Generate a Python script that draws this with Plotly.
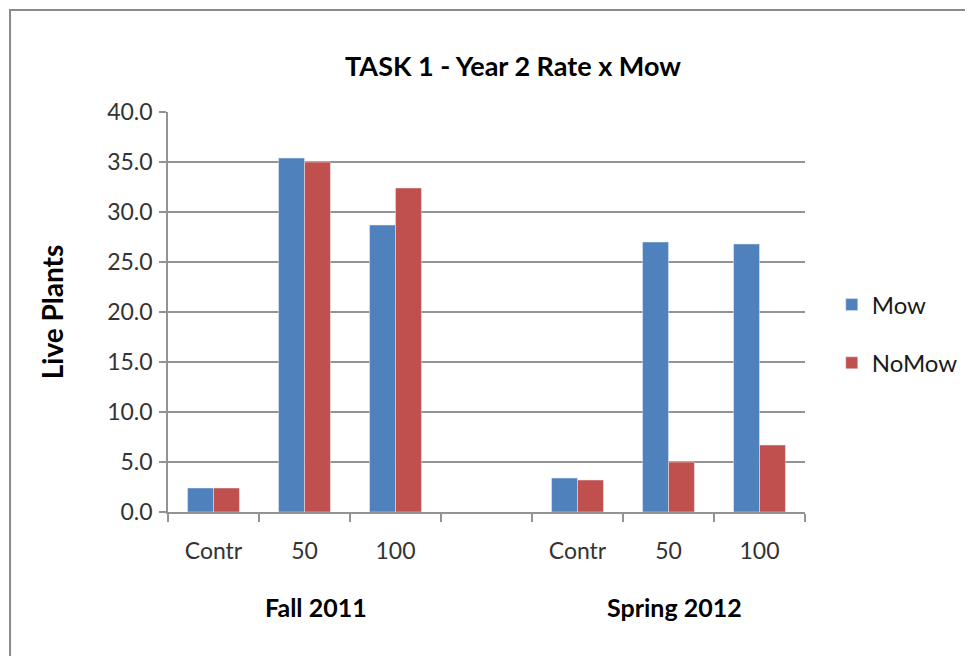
import plotly.graph_objects as go

# categories (ids keep each slot unique; a blank slot separates the two seasons)
cat_ids = ["f_contr", "f_50", "f_100", "gap", "s_contr", "s_50", "s_100"]
cat_labels = ["Contr", "50", "100", "", "Contr", "50", "100"]
groups = ["Fall 2011", "Spring 2012"]
group_centers = ["f_50", "s_50"]

mow = [2.4, 35.4, 28.7, None, 3.4, 27.0, 26.8]
nomow = [2.4, 35.0, 32.4, None, 3.2, 5.0, 6.7]

y_ticks = [0, 5, 10, 15, 20, 25, 30, 35, 40]

font = "Lato, 'Open Sans', sans-serif"
grid = "#939393"

fig = go.Figure()
fig.add_trace(go.Bar(x=cat_ids, y=mow, name="Mow", marker_color="#4F81BD",
                     legendgroup="a"))
fig.add_trace(go.Bar(x=cat_ids, y=nomow, name="NoMow", marker_color="#C0504D",
                     legendgroup="b"))

# season labels under the category labels
for g, c, dx in zip(groups, group_centers, [11, 6]):
    fig.add_annotation(x=c, y=-0.2375, xref="x", yref="paper", text=g,
                       showarrow=False, xshift=dx, yanchor="middle",
                       font=dict(family=font, size=25, color="#000000", weight="bold"))

# chart area border (Excel style)
fig.add_shape(type="rect", xref="paper", yref="paper",
              x0=-0.248, x1=1.4, y0=-0.6, y1=1.255,
              line=dict(color="#8a8a8a", width=2), layer="below")

fig.update_layout(
    width=973, height=656,
    margin=dict(l=160, r=176, t=104, b=152),
    paper_bgcolor="white", plot_bgcolor="white",
    barmode="group", bargap=0.43, bargroupgap=0,
    title=dict(text="<b>TASK 1 - Year 2 Rate x Mow</b>", x=0.519, xanchor="center",
               y=0.91, yanchor="middle",
               font=dict(family=font, size=27, color="#000000")),
    legend=dict(x=1.042, y=0.445, xanchor="left", yanchor="middle",
                font=dict(family=font, size=24, color="#1a1a1a"),
                traceorder="grouped", tracegroupgap=24),
    xaxis=dict(type="category", categoryorder="array", categoryarray=cat_ids,
               tickvals=cat_ids, ticktext=cat_labels, tickson="boundaries",
               ticks="outside", ticklen=8, tickcolor=grid, tickwidth=1.5,
               showline=True, linecolor=grid, linewidth=1.5,
               ticklabelstandoff=18,
               tickfont=dict(family=font, size=23, color="#333333")),
    yaxis=dict(range=[0, 40], tickvals=y_ticks, tickformat=".1f",
               showgrid=True, gridcolor=grid, gridwidth=1.5,
               showline=True, linecolor=grid, linewidth=1.5,
               ticks="outside", ticklen=7, tickcolor=grid, tickwidth=1.5,
               zeroline=False, ticklabelstandoff=2,
               tickfont=dict(family=font, size=23, color="#333333"),
               title=dict(text="<b>Live Plants</b>", standoff=35,
                          font=dict(family=font, size=28, color="#000000"))),
)

fig.write_html("out.html")
